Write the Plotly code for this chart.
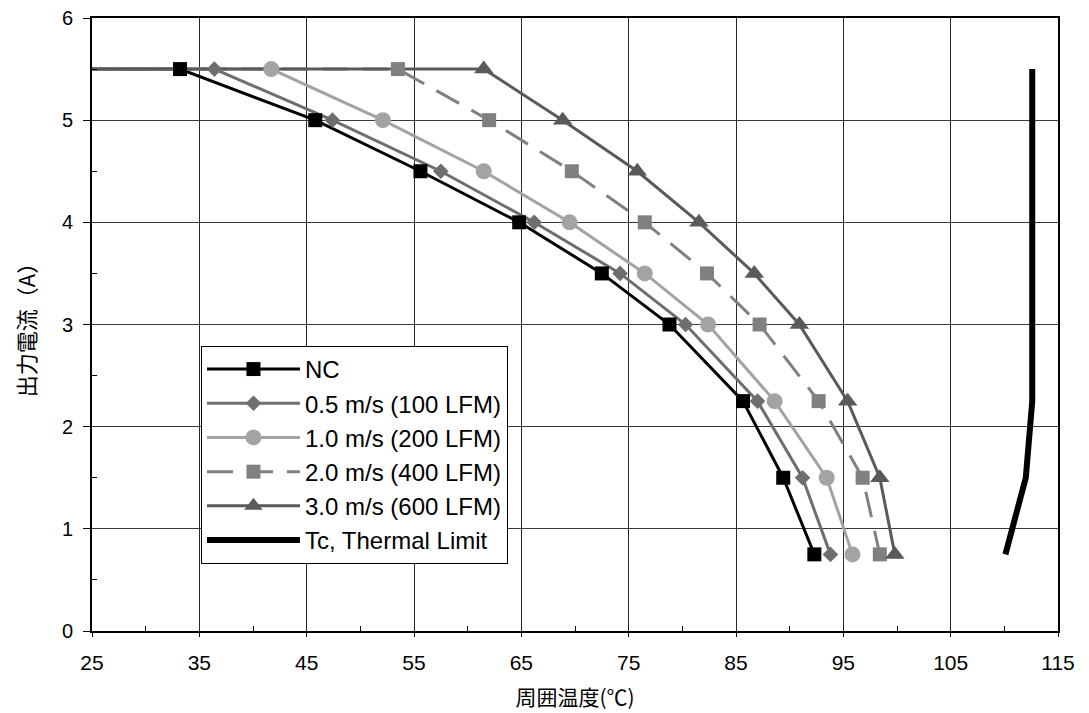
import plotly.graph_objects as go

# ---- data ----
current = [5.5, 5.5, 5.0, 4.5, 4.0, 3.5, 3.0, 2.25, 1.5, 0.75]
nc      = [24.07, 33.2, 45.8, 55.6, 64.8, 72.5, 78.8, 85.65, 89.4, 92.3]
v05     = [24.07, 36.4, 47.4, 57.5, 66.2, 74.2, 80.3, 87.0, 91.2, 93.8]
v10     = [24.07, 41.7, 52.1, 61.5, 69.5, 76.5, 82.4, 88.6, 93.45, 95.85]

current_20 = [5.5, 5.5, 5.0, 4.5, 4.0, 3.5, 3.0, 2.25, 1.5, 0.75]
v20        = [24.07, 53.5, 62.0, 69.7, 76.5, 82.3, 87.2, 92.7, 96.8, 98.4]
current_30 = [5.5, 5.5, 5.0, 4.5, 4.0, 3.5, 3.0, 2.25, 1.5, 0.75]
v30        = [24.07, 61.5, 68.85, 75.8, 81.55, 86.7, 90.9, 95.4, 98.4, 99.8]

tc_current = [0.75, 1.5, 2.25, 5.5]
tc_temp    = [110.1, 112.0, 112.6, 112.6]

names = ["NC", "0.5 m/s (100 LFM)", "1.0 m/s (200 LFM)",
         "2.0 m/s (400 LFM)", "3.0 m/s (600 LFM)", "Tc, Thermal Limit"]

x_ticks = [25, 35, 45, 55, 65, 75, 85, 95, 105, 115]
y_ticks = [0, 1, 2, 3, 4, 5, 6]

# ---- styles ----
series = [
    dict(x=nc,  y=current,    color="#000000", sym="square",      size=14, dash="solid"),
    dict(x=v05, y=current,    color="#6e6e6e", sym="diamond",     size=12, dash="solid"),
    dict(x=v10, y=current,    color="#a3a3a3", sym="circle",      size=16, dash="solid"),
    dict(x=v20, y=current_20, color="#808080", sym="square",      size=14, dash="26px,14px"),
    dict(x=v30, y=current_30, color="#5a5a5a", sym="triangle-up", size=17, dash="solid"),
]

fig = go.Figure()

# lines first
for s in series:
    fig.add_trace(go.Scatter(x=s["x"], y=s["y"], mode="lines",
                             line=dict(color=s["color"], width=3, dash=s["dash"]),
                             showlegend=False, hoverinfo="skip"))
fig.add_trace(go.Scatter(x=tc_temp, y=tc_current, mode="lines",
                         line=dict(color="#000000", width=6),
                         showlegend=False, hoverinfo="skip"))
# markers on top
for s in series:
    fig.add_trace(go.Scatter(x=s["x"][1:], y=s["y"][1:], mode="markers",
                             marker=dict(symbol=s["sym"], size=s["size"], color=s["color"],
                                         line=dict(width=0)),
                             showlegend=False))
# legend entries
for i, s in enumerate(series):
    fig.add_trace(go.Scatter(x=[None], y=[None], mode="lines+markers", name=names[i],
                             line=dict(color=s["color"], width=3, dash=s["dash"]),
                             marker=dict(symbol=s["sym"], size=s["size"], color=s["color"],
                                         line=dict(width=0))))
fig.add_trace(go.Scatter(x=[None], y=[None], mode="lines", name=names[5],
                         line=dict(color="#000000", width=6)))

fig.update_layout(
    width=1089, height=713,
    margin=dict(l=92, r=31, t=18, b=82),
    paper_bgcolor="white", plot_bgcolor="white",
    font=dict(family="Liberation Sans, Arial, sans-serif", size=20, color="#000000"),
    legend=dict(x=0.1128, y=0.465, xanchor="left", yanchor="top",
                bgcolor="white", bordercolor="#000000", borderwidth=1,
                font=dict(size=24, family="Liberation Sans, Arial, sans-serif"),
                itemwidth=93),
    showlegend=True,
)

fig.update_xaxes(
    range=[25, 115], tickvals=x_ticks, ticktext=[str(v) for v in x_ticks],
    automargin=False,
    showgrid=True, gridcolor="#2a2a2a", gridwidth=1,
    showline=True, linecolor="#000000", linewidth=2, mirror=True,
    ticks="outside", ticklen=4, tickcolor="#000000", ticklabelstandoff=8,
    tickfont=dict(family="Liberation Sans Narrow, Arial Narrow, Liberation Sans, sans-serif", size=21),
    minor=dict(dtick=10, tick0=30, ticks="inside", ticklen=5, tickcolor="#000000", showgrid=False),
    zeroline=False,
    title=dict(text="周囲温度(℃)", font=dict(family="Noto Sans CJK JP", size=21), standoff=17),
)
fig.update_yaxes(
    range=[0, 6], tickvals=y_ticks,
    automargin=False,
    showgrid=True, gridcolor="#3a3a3a", gridwidth=1,
    showline=True, linecolor="#000000", linewidth=2, mirror=True,
    ticks="outside", ticklen=7, tickcolor="#000000", ticklabelstandoff=6,
    tickfont=dict(family="Liberation Sans, Arial, sans-serif", size=20),
    minor=dict(dtick=1, tick0=0.5, ticks="inside", ticklen=5, tickcolor="#000000", showgrid=False),
    zeroline=False,
    title=dict(text="出力電流（A）", font=dict(family="Noto Sans CJK JP", size=22), standoff=20),
)

fig.write_html("out.html", config={"displayModeBar": False},
               post_script="document.body.style.margin='0';")
